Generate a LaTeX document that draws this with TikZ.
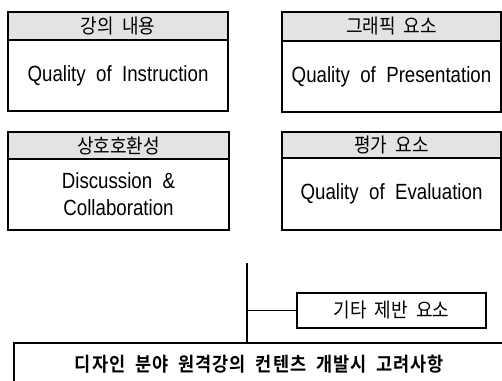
\documentclass[tikz,border=0pt]{standalone}
\usepackage{fontspec}
\setmainfont{Liberation Sans}[WordSpace=2,FakeStretch=0.85]
\newfontfamily\kr[BoldFont={Noto Sans CJK KR Bold},FakeStretch=0.9,WordSpace=2]{Noto Sans CJK KR}
\begin{document}
\begin{tikzpicture}[x=1pt,y=-1pt,
  hdr/.style={draw,line width=1.1pt,fill=gray!22,inner sep=0pt,font=\kr\fontsize{20}{22}\selectfont},
  body/.style={draw,line width=1.1pt,inner sep=0pt,align=center,font=\fontsize{22}{27}\selectfont},
  plain/.style={draw,line width=1.1pt,inner sep=0pt},
  conn/.style={line width=1.1pt}]
\useasboundingbox (0,0) rectangle (502,380);
\begin{scope}
\clip (0,0) rectangle (502,380);
% box 1
\node[hdr,minimum width=220pt,minimum height=28pt] (h1) at (118,26) {강의 내용};
\node[body,minimum width=220pt,minimum height=71pt] (b1) at (118,75.5) {Quality of Instruction};
% box 2
\node[hdr,minimum width=219pt,minimum height=29pt] (h2) at (391.5,26.5) {그래픽 요소};
\node[body,minimum width=219pt,minimum height=71pt] (b2) at (391.5,76.5) {Quality of Presentation};
% box 3
\node[hdr,minimum width=221pt,minimum height=27pt] (h3) at (118.5,145.5) {상호호환성};
\node[body,minimum width=221pt,minimum height=71pt] (b3) at (118.5,194.5) {Discussion \&\\Collaboration};
% box 4
\node[hdr,minimum width=219pt,minimum height=26pt] (h4) at (391.5,145) {평가 요소};
\node[body,minimum width=219pt,minimum height=72pt] (b4) at (391.5,194) {Quality of Evaluation};
% other
\node[plain,minimum width=189pt,minimum height=35pt,font=\kr\fontsize{20}{22}\selectfont] (other) at (391.5,310.5) {기타 제반 요소};
% main box
\node[plain,minimum width=506pt,minimum height=57pt] (main) at (267,371.5) {};
\node[font=\kr\bfseries\fontsize{19.5}{22}\selectfont\addfontfeature{LetterSpace=5},inner sep=0pt] (maintext) at (259.5,364) {디자인 분야 원격강의 컨텐츠 개발시 고려사항};
% connectors
\coordinate (top) at (247,263);
\coordinate (junc) at (247,310.5);
\draw[conn] (top) -- (top |- main.north);
\draw[conn] (junc) -- (other.west);
\end{scope}
\end{tikzpicture}
\end{document}
